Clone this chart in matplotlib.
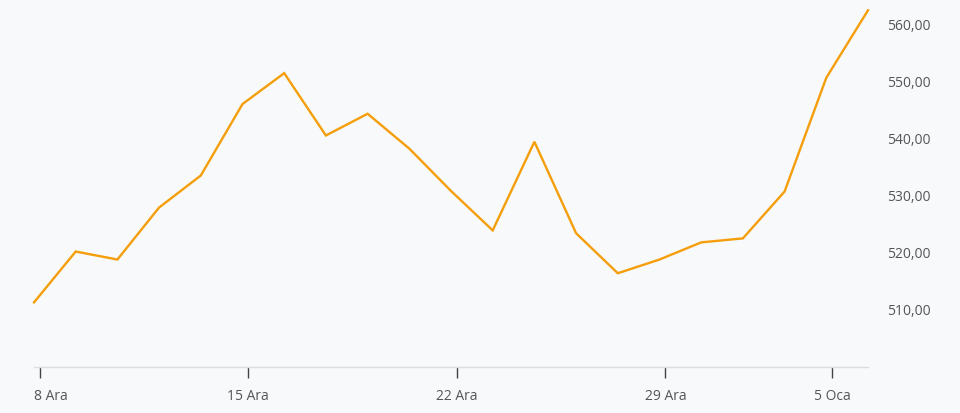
import matplotlib
matplotlib.use("Agg")
import matplotlib.pyplot as plt
import matplotlib.transforms as mtransforms
import numpy as np

dates = ["8 Ara", "9 Ara", "10 Ara", "11 Ara", "12 Ara",
         "15 Ara", "16 Ara", "17 Ara", "18 Ara", "19 Ara",
         "22 Ara", "23 Ara", "24 Ara", "25 Ara", "26 Ara",
         "29 Ara", "30 Ara", "31 Ara", "2 Oca", "5 Oca", "6 Oca"]
values = [511.3, 520.2, 518.8, 527.9, 533.5,
          546.0, 551.4, 540.5, 544.3, 538.2,
          530.8, 523.9, 539.4, 523.4, 516.4,
          518.8, 521.8, 522.5, 530.7, 550.6, 562.4]
tick_labels = ["8 Ara", "15 Ara", "22 Ara", "29 Ara", "5 Oca"]
y_ticks = [510, 520, 530, 540, 550, 560]

plt.rcParams['font.family'] = ['Open Sans', 'DejaVu Sans']

bg = '#f8f9fa'
fig = plt.figure(figsize=(9.6, 4.13), dpi=100, facecolor=bg)
ax = fig.add_axes([34/960, 46/413, (868-34)/960, 367/413])
ax.set_facecolor(bg)

x = np.arange(len(values))
ax.plot(x, values, color='#f59e0b', lw=1.7, solid_joinstyle='miter', clip_on=False)

ax.set_xlim(0, len(values) - 1)
ax.set_ylim(500, 564.2)

tick_pos = [dates.index(t) + 0.14 for t in tick_labels]
ax.set_xticks(tick_pos)
ax.set_xticklabels(tick_labels)
ax.tick_params(axis='x', length=8, width=1, color='#444444', pad=8,
               labelsize=10, labelcolor='#555555', direction='out')

ax.yaxis.tick_right()
ax.set_yticks(y_ticks)
ax.set_yticklabels([f"{v:.2f}".replace('.', ',') for v in y_ticks])
ax.tick_params(axis='y', length=0, pad=14, labelsize=10, labelcolor='#555555')

for s in ['top', 'left', 'right']:
    ax.spines[s].set_visible(False)
ax.spines['bottom'].set_color('#dddddd')
ax.spines['bottom'].set_linewidth(1)

# first label kept inside the chart
lbl = ax.get_xticklabels()[0]
lbl.set_horizontalalignment('left')
lbl.set_transform(lbl.get_transform() + mtransforms.ScaledTranslation(-6/100, 0, fig.dpi_scale_trans))

fig.savefig("out.png", dpi=100, facecolor=bg)
